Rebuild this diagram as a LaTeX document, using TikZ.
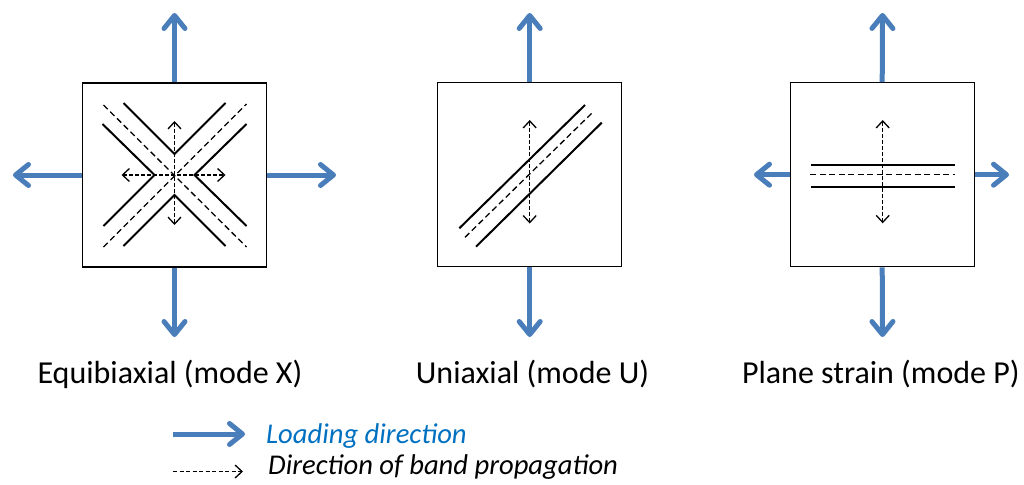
\documentclass[tikz,border=0pt]{standalone}
\usepackage{fontspec}
\setmainfont{Carlito}
\usetikzlibrary{arrows.meta}
\definecolor{loadblue}{RGB}{74,126,187}
\definecolor{textblue}{RGB}{0,112,192}
\tikzset{
  box/.style={draw=black,line width=1.3pt,minimum size=184pt,inner sep=0pt,fill=white},
  load/.style={draw=loadblue,line width=5pt,-{Straight Barb[length=13pt,width=21pt,line cap=round,line join=round]}},
  band/.style={line width=2pt},
  bandmid/.style={line width=1.3pt,dash pattern=on 6pt off 3.5pt},
  prop/.style={line width=1.3pt,dash pattern=on 4pt off 2pt,{Straight Barb[length=7pt,width=13pt]}-{Straight Barb[length=7pt,width=13pt]}},
  propone/.style={line width=1.3pt,dash pattern=on 4pt off 2.5pt,-{Straight Barb[length=7pt,width=13pt]}},
  lbl/.style={font=\fontsize{32}{38}\selectfont,anchor=base,inner sep=0pt},
  leg/.style={font=\fontsize{28.6}{34}\selectfont\itshape,anchor=base west,inner sep=0pt}
}
\begin{document}
\begin{tikzpicture}[x=1pt,y=-1pt]
\useasboundingbox (0,0) rectangle (1024,484);
% ---------- Box 1: equibiaxial ----------
\node[box] (b1) at (174.5,175) {};
\coordinate (t1n) at (174.5,13);
\coordinate (t1s) at (174.5,337);
\coordinate (t1w) at (13,175);
\coordinate (t1e) at (336,175);
\draw[load] (b1.north) -- (t1n);
\draw[load] (b1.south) -- (t1s);
\draw[load] (b1.west) -- (t1w);
\draw[load] (b1.east) -- (t1e);
\begin{scope}[shift={(b1.center)}]
  \draw[band] (-72,-51) -- (-20,0) -- (-71,51);
  \draw[band] (-51,-72) -- (0,-21) -- (51,-72);
  \draw[band] (72,-51) -- (20,0) -- (72,51);
  \draw[band] (-51,71) -- (0,20) -- (51,71);
  \draw[bandmid] (-71,-70) -- (72,72);
  \draw[bandmid] (-71,72) -- (72,-71);
  \coordinate (h1a) at (-53,0);
  \coordinate (h1b) at (51,0);
  \coordinate (v1a) at (0,-54);
  \coordinate (v1b) at (0,50);
\end{scope}
\draw[prop] (h1a) -- (h1b);
\draw[prop] (v1a) -- (v1b);
% ---------- Box 2: uniaxial ----------
\node[box] (b2) at (529.7,174.5) {};
\coordinate (t2n) at (529.7,13);
\coordinate (t2s) at (529.7,337);
\draw[load] (b2.north) -- (t2n);
\draw[load] (b2.south) -- (t2s);
\begin{scope}[shift={(b2.center)}]
  \draw[band] (-70.4,53.8) -- (55.3,-69.5);
  \draw[band] (-53.7,72.2) -- (72,-51.8);
  \draw[bandmid] (-64.7,62.8) -- (62,-61.2);
  \coordinate (v2a) at (0,-54.5);
  \coordinate (v2b) at (0,49);
\end{scope}
\draw[prop] (v2a) -- (v2b);
% ---------- Box 3: plane strain ----------
\node[box] (b3) at (882.2,174.7) {};
\coordinate (t3n) at (882.5,13);
\coordinate (t3s) at (882.5,337);
\coordinate (t3w) at (754,174.7);
\coordinate (t3e) at (1009,174.7);
\draw[load] (b3.north) -- (t3n);
\draw[load] (b3.south) -- (t3s);
\draw[load] (b3.west) -- (t3w);
\draw[load] (b3.east) -- (t3e);
\begin{scope}[shift={(b3.center)}]
  \draw[band] (-71,-9.8) -- (73,-9.8);
  \draw[band] (-71,11.8) -- (73,11.8);
  \draw[bandmid] (-72,0) -- (73,0);
  \coordinate (v3a) at (0.5,-54.7);
  \coordinate (v3b) at (0.5,48.6);
\end{scope}
\draw[prop] (v3a) -- (v3b);
% ---------- Labels ----------
\node[lbl] (l1) at (170,383.3) {Equibiaxial (mode X)};
\node[lbl] (l2) at (532.5,383.3) {Uniaxial (mode U)};
\node[lbl] (l3) at (880.8,383.3) {Plane strain (mode P)};
% ---------- Legend ----------
\coordinate (la) at (173,434);
\coordinate (lb) at (245,434);
\coordinate (da) at (173,471.5);
\coordinate (db) at (243,471.5);
\draw[load] (la) -- (lb);
\draw[propone] (da) -- (db);
\node[leg,text=textblue] (t1) at (266,443.5) {Loading direction};
\node[leg] (t2) at (268,474) {Direction of band propagation};
\end{tikzpicture}
\end{document}
